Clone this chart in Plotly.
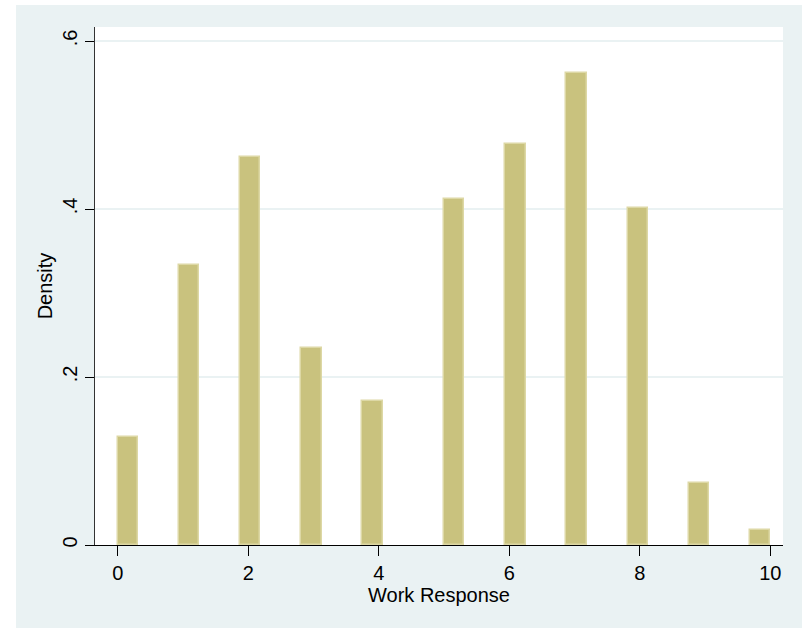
import math
import plotly.graph_objects as go

# Work response scores (discrete 0-10) and their histogram densities
responses = [0, 1, 2, 3, 4, 5, 6, 7, 8, 9, 10]
density = [0.1286, 0.3333, 0.4619, 0.2345, 0.1714, 0.4119, 0.4774, 0.5619, 0.4012, 0.0738, 0.0179]

x_ticks = [0, 2, 4, 6, 8, 10]
x_tick_text = ["0", "2", "4", "6", "8", "10"]
y_ticks = [0, 0.2, 0.4, 0.6]
y_tick_text = ["0", ".2", ".4", ".6"]

# histogram bins: 32 equal-width bins spanning [0, 10]
n_bins = 32
lo, hi = 0.0, 10.0
bin_w = (hi - lo) / n_bins
bin_idx = [min(int(math.floor((v - lo) / bin_w + 1e-9)), n_bins - 1) for v in responses]
bin_centers = [lo + (i + 0.5) * bin_w for i in bin_idx]

BG = "#EAF2F3"
W, H = 802, 628
ML, MR, MT, MB = 95, 19, 27, 83
PW, PH = W - ML - MR, H - MT - MB

fig = go.Figure()
fig.add_trace(go.Bar(
    x=bin_centers,
    y=density,
    width=[bin_w] * len(bin_centers),
    marker=dict(color="rgb(201,194,126)", line=dict(color="rgb(221,216,165)", width=1.5)),
    hoverinfo="x+y",
))


def px_to_paper_x(px):
    return (px - ML) / PW


def px_to_paper_y(py):
    return (H - MB - py) / PH


# white strips framing the light graph region at top and left
fig.add_shape(type="rect", xref="paper", yref="paper",
              x0=px_to_paper_x(0), x1=px_to_paper_x(16),
              y0=px_to_paper_y(H), y1=px_to_paper_y(0),
              fillcolor="white", line=dict(width=0), layer="below")
fig.add_shape(type="rect", xref="paper", yref="paper",
              x0=px_to_paper_x(0), x1=px_to_paper_x(W),
              y0=px_to_paper_y(5), y1=px_to_paper_y(0),
              fillcolor="white", line=dict(width=0), layer="below")

fig.update_layout(
    width=W, height=H,
    margin=dict(l=ML, r=MR, t=MT, b=MB, pad=0),
    paper_bgcolor=BG,
    plot_bgcolor="white",
    font=dict(family="Liberation Sans, Arial, sans-serif", color="black", size=19),
    showlegend=False,
    bargap=0,
)

fig.update_xaxes(
    range=[-0.348, 10.195],
    tickmode="array", tickvals=x_ticks, ticktext=x_tick_text,
    ticks="outside", ticklen=10, tickwidth=1, tickcolor="black",
    showline=True, linecolor="black", linewidth=1,
    showgrid=False, zeroline=False,
    tickfont=dict(size=20),
    title=dict(text="Work Response", font=dict(size=20), standoff=1),
    automargin=False,
)
fig.update_yaxes(
    range=[0, 0.6167],
    tickmode="array", tickvals=y_ticks, ticktext=y_tick_text,
    tickangle=-90,
    ticks="outside", ticklen=9, tickwidth=1, tickcolor="black",
    showline=True, linecolor="#333333", linewidth=1,
    showgrid=True, gridcolor=BG, gridwidth=1.5,
    zeroline=False,
    tickfont=dict(size=20),
    title=dict(text="Density", font=dict(size=20), standoff=1),
    automargin=False,
)

fig.write_html("out.html")
